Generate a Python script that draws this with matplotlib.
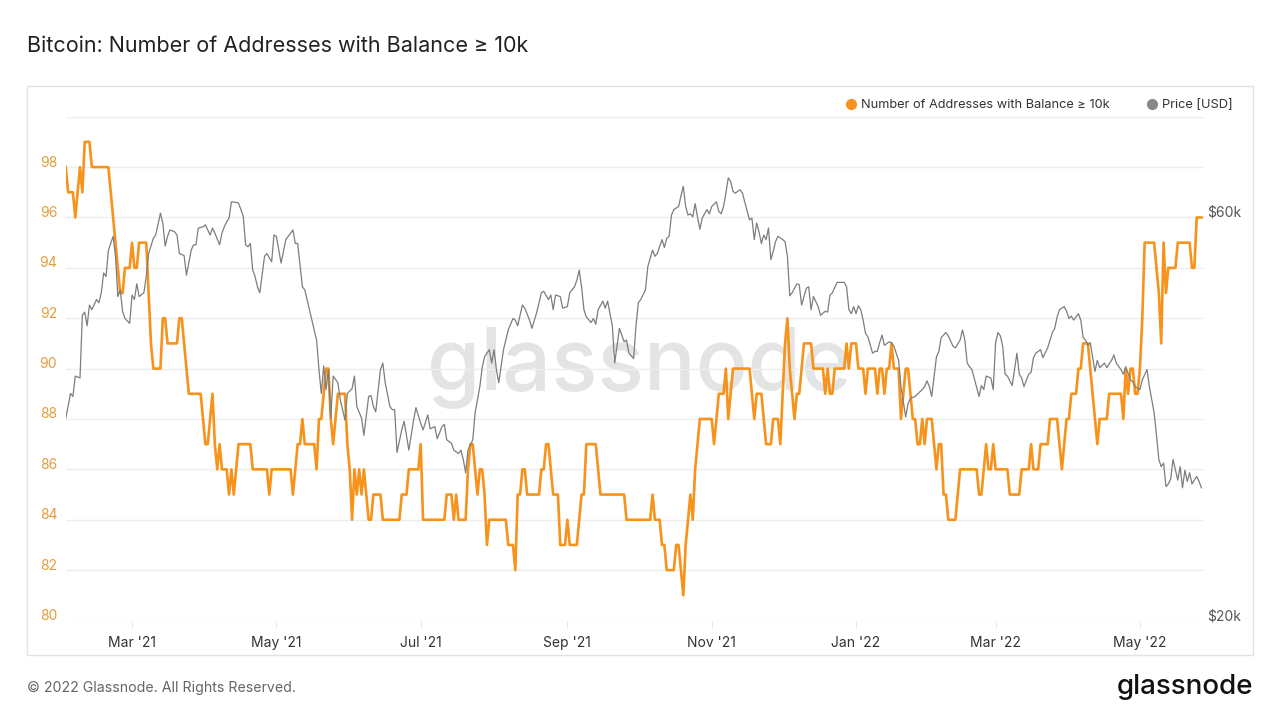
import numpy as np
import matplotlib
matplotlib.use("Agg")
import matplotlib.pyplot as plt
import matplotlib.dates as mdates
import matplotlib.ticker as mticker
from matplotlib.lines import Line2D
from matplotlib.patches import Rectangle
from matplotlib.transforms import ScaledTranslation

plt.rcParams['font.family'] = ['Inter', 'DejaVu Sans']

# ---------------- data ----------------
START = np.datetime64('2021-02-01')
N_DAYS = 481  # 2021-02-01 .. 2022-05-27

# addresses with balance >= 10k BTC: day offset where a new value starts, and that value
addr_change_day = [
    0, 1, 4, 5, 6, 7, 8, 11, 19, 20,
    21, 22, 23, 25, 28, 29, 31, 35, 36, 37,
    41, 43, 48, 50, 51, 52, 58, 59, 61, 62,
    63, 64, 65, 66, 69, 70, 71, 72, 73, 79,
    86, 87, 96, 97, 98, 100, 101, 106, 107, 109,
    110, 112, 113, 114, 115, 119, 120, 121, 122, 123,
    124, 125, 126, 127, 128, 130, 134, 142, 145, 150,
    151, 161, 164, 165, 166, 170, 171, 173, 174, 175,
    177, 178, 179, 187, 190, 191, 193, 195, 201, 203,
    205, 206, 209, 212, 213, 217, 218, 220, 225, 226,
    237, 248, 249, 252, 254, 258, 260, 261, 262, 263,
    264, 265, 266, 267, 268, 274, 275, 276, 279, 280,
    281, 282, 290, 291, 292, 295, 296, 299, 302, 303,
    304, 305, 306, 307, 308, 309, 311, 312, 316, 321,
    322, 323, 325, 330, 331, 332, 335, 338, 339, 343,
    344, 346, 347, 349, 350, 353, 354, 355, 357, 358,
    360, 362, 363, 364, 367, 368, 369, 371, 373, 377,
    378, 386, 388, 389, 390, 392, 393, 399, 404, 408,
    409, 412, 416, 420, 421, 422, 423, 425, 428, 430,
    433, 434, 435, 436, 437, 441, 447, 448, 449, 450,
    452, 454, 455, 456, 461, 462, 463, 464, 465, 466,
    470, 476, 478,
]
addr_value = [
    98, 97, 96, 97, 98, 97, 99, 98, 97, 96,
    95, 94, 93, 94, 95, 94, 95, 93, 91, 90,
    92, 91, 92, 91, 90, 89, 88, 87, 88, 89,
    87, 86, 87, 86, 85, 86, 85, 86, 87, 86,
    85, 86, 85, 86, 87, 88, 87, 86, 88, 89,
    90, 88, 87, 88, 89, 87, 86, 84, 86, 85,
    86, 85, 86, 85, 84, 85, 84, 85, 86, 87,
    84, 85, 84, 85, 84, 86, 87, 86, 85, 86,
    85, 83, 84, 83, 82, 85, 86, 85, 86, 87,
    86, 85, 83, 84, 83, 84, 85, 87, 86, 85,
    84, 85, 84, 83, 82, 83, 82, 81, 83, 84,
    85, 84, 86, 87, 88, 87, 88, 89, 90, 88,
    89, 90, 89, 88, 89, 88, 87, 88, 87, 89,
    91, 92, 90, 89, 88, 89, 90, 91, 90, 89,
    90, 89, 90, 91, 90, 91, 90, 89, 90, 89,
    90, 89, 90, 91, 90, 88, 89, 90, 89, 88,
    87, 88, 87, 88, 87, 86, 87, 85, 84, 85,
    86, 85, 86, 87, 86, 87, 86, 85, 86, 87,
    86, 87, 88, 87, 86, 87, 88, 89, 90, 91,
    90, 89, 88, 87, 88, 89, 88, 90, 89, 90,
    89, 90, 92, 95, 94, 93, 91, 95, 93, 94,
    95, 94, 96,
]

# BTC price (thousand USD)
price_day = [
    0, 2, 3, 4, 6, 7, 8, 9, 10, 11,
    13, 14, 15, 16, 17, 18, 20, 21, 22, 23,
    24, 25, 27, 28, 29, 30, 31, 33, 34, 35,
    37, 38, 40, 41, 42, 43, 44, 46, 47, 48,
    50, 51, 53, 54, 55, 56, 58, 59, 61, 62,
    63, 65, 66, 67, 68, 69, 70, 72, 73, 75,
    76, 77, 78, 79, 80, 81, 82, 84, 85, 87,
    88, 89, 91, 93, 94, 96, 97, 98, 100, 101,
    103, 106, 107, 108, 109, 110, 111, 112, 113, 115,
    116, 118, 119, 121, 122, 123, 125, 126, 128, 129,
    130, 131, 133, 134, 135, 137, 138, 139, 140, 142,
    143, 145, 147, 148, 150, 151, 153, 154, 156, 157,
    159, 160, 161, 163, 164, 166, 167, 168, 169, 170,
    172, 173, 175, 176, 177, 179, 180, 181, 182, 183,
    185, 187, 189, 190, 191, 193, 194, 196, 197, 199,
    201, 202, 204, 205, 206, 207, 209, 210, 212, 213,
    215, 216, 217, 218, 219, 220, 222, 223, 224, 225,
    227, 228, 229, 231, 232, 234, 236, 237, 238, 240,
    241, 242, 243, 245, 246, 248, 249, 250, 252, 253,
    254, 255, 256, 257, 259, 260, 261, 262, 263, 264,
    265, 266, 267, 268, 269, 271, 272, 273, 275, 276,
    277, 278, 279, 280, 281, 282, 283, 285, 286, 288,
    289, 290, 291, 292, 293, 294, 295, 296, 297, 298,
    299, 300, 301, 303, 304, 305, 306, 307, 309, 310,
    311, 313, 314, 315, 316, 318, 319, 321, 322, 323,
    324, 326, 327, 329, 330, 331, 332, 333, 334, 335,
    336, 337, 338, 339, 341, 342, 343, 344, 345, 346,
    348, 349, 350, 351, 352, 353, 355, 356, 357, 359,
    362, 363, 364, 365, 366, 368, 369, 370, 372, 373,
    375, 376, 378, 379, 380, 381, 382, 383, 386, 387,
    388, 389, 391, 392, 393, 394, 395, 396, 397, 398,
    400, 402, 403, 404, 405, 407, 408, 409, 410, 412,
    413, 415, 416, 417, 418, 419, 420, 422, 423, 424,
    425, 426, 428, 429, 430, 431, 432, 433, 434, 435,
    436, 437, 439, 440, 442, 443, 444, 446, 447, 448,
    450, 451, 452, 454, 455, 457, 458, 459, 460, 461,
    462, 463, 464, 465, 466, 467, 468, 470, 471, 472,
    473, 474, 475, 476, 478, 479, 480,
]
price_k = [
    34.7, 37.1, 36.8, 38.9, 38.7, 45.9, 46.3, 44.6, 47.2, 46.6,
    47.9, 47.5, 48.8, 51.5, 51.0, 54.8, 56.9, 53.9, 48.3, 49.2,
    46.4, 45.5, 44.9, 48.5, 47.9, 50.0, 48.3, 48.8, 51.0, 54.3,
    56.6, 57.1, 60.6, 59.0, 55.4, 56.9, 57.9, 57.6, 57.1, 54.3,
    54.0, 51.2, 54.8, 55.6, 55.6, 58.2, 58.4, 58.7, 57.1, 58.2,
    57.4, 55.6, 57.4, 58.4, 59.2, 59.8, 62.5, 62.4, 62.3, 60.1,
    55.6, 55.3, 55.8, 51.9, 51.0, 49.6, 48.8, 53.9, 54.3, 53.1,
    57.1, 56.9, 52.9, 56.4, 56.9, 57.9, 55.8, 55.8, 49.6, 49.2,
    46.6, 42.9, 39.6, 37.1, 40.0, 37.5, 39.6, 34.7, 38.9, 38.2,
    36.5, 34.5, 37.1, 37.6, 38.9, 35.8, 34.7, 33.1, 36.8, 36.9,
    35.8, 35.3, 39.6, 40.3, 38.2, 35.8, 35.5, 35.5, 31.6, 33.6,
    34.4, 31.8, 34.5, 35.7, 34.2, 33.6, 35.0, 33.7, 33.9, 32.8,
    33.9, 34.1, 32.7, 32.4, 31.8, 31.5, 31.8, 31.0, 29.9, 31.8,
    32.7, 35.2, 37.8, 39.8, 41.0, 41.8, 40.3, 41.8, 39.6, 38.2,
    41.8, 44.1, 45.5, 45.3, 44.6, 47.2, 46.8, 45.3, 44.3, 46.2,
    48.8, 49.0, 47.9, 48.5, 46.6, 48.5, 48.3, 46.8, 47.0, 48.8,
    49.6, 50.5, 51.9, 49.6, 46.6, 45.7, 45.0, 45.5, 44.8, 46.6,
    47.7, 46.8, 47.7, 44.6, 40.3, 44.3, 42.7, 42.9, 41.4, 40.8,
    44.6, 47.5, 47.9, 49.2, 52.4, 54.8, 53.9, 54.3, 56.4, 55.2,
    56.6, 56.9, 60.3, 61.2, 61.7, 63.5, 65.2, 61.7, 60.3, 60.5,
    60.0, 62.2, 60.0, 58.0, 59.8, 61.2, 60.5, 61.7, 62.5, 60.9,
    60.5, 61.7, 64.0, 66.7, 66.1, 64.3, 64.0, 64.6, 64.0, 60.9,
    59.5, 59.8, 56.4, 59.0, 57.6, 55.8, 57.1, 56.4, 58.2, 53.4,
    54.6, 56.1, 56.9, 56.4, 56.1, 53.9, 48.4, 48.8, 50.0, 49.9,
    47.2, 49.4, 49.6, 46.6, 48.3, 47.0, 45.9, 46.4, 46.3, 48.5,
    48.8, 50.2, 50.2, 50.2, 49.6, 46.6, 46.1, 47.0, 46.1, 47.1,
    46.6, 45.3, 43.7, 43.3, 41.4, 41.6, 41.6, 42.6, 43.5, 42.3,
    42.7, 42.6, 42.2, 41.4, 40.6, 37.8, 34.8, 36.1, 36.6, 36.8,
    37.5, 37.8, 38.4, 37.8, 36.8, 41.0, 41.6, 43.2, 43.8, 43.4,
    42.2, 42.0, 42.9, 44.1, 42.9, 40.3, 39.9, 39.6, 36.8, 37.9,
    37.5, 38.9, 38.7, 37.5, 42.6, 43.8, 43.4, 42.2, 39.1, 38.9,
    37.9, 41.4, 39.1, 38.7, 37.8, 39.1, 39.3, 40.9, 41.4, 41.8,
    40.9, 42.0, 42.9, 43.8, 44.3, 45.7, 46.6, 47.0, 46.4, 45.5,
    45.8, 45.3, 46.1, 45.3, 43.2, 42.9, 42.3, 42.6, 41.0, 39.4,
    40.6, 39.8, 40.3, 39.8, 40.6, 41.2, 40.3, 39.6, 39.1, 39.9,
    38.5, 38.3, 37.8, 37.5, 38.5, 39.6, 37.8, 36.5, 35.2, 33.1,
    31.0, 30.4, 30.7, 28.8, 29.0, 29.4, 31.0, 29.3, 30.4, 28.7,
    30.1, 29.2, 29.9, 29.0, 29.6, 29.2, 28.7,
]

left_ticks = [80, 82, 84, 86, 88, 90, 92, 94, 96, 98, 100]
left_labels = ['80', '82', '84', '86', '88', '90', '92', '94', '96', '98', '']
right_ticks = [20000, 60000]
right_labels = ['$20k', '$60k']

TITLE = "Bitcoin: Number of Addresses with Balance \u2265 10k"
SERIES1 = "Number of Addresses with Balance \u2265 10k"
SERIES2 = "Price [USD]"

ORANGE = '#f7931a'
GRAY = '#7d7d7d'

# ---------------- build series ----------------
counts = np.diff(addr_change_day + [N_DAYS])
addr_daily = np.repeat(addr_value, counts)
addr_dates = START + np.arange(N_DAYS).astype('timedelta64[D]')
price_dates = START + np.array(price_day).astype('timedelta64[D]')
price_usd = np.array(price_k) * 1000.0

# ---------------- figure ----------------
W, H = 1280, 720
fig = plt.figure(figsize=(12.8, 7.2), dpi=100)
fig.patch.set_facecolor('white')

fig.add_artist(Rectangle((27 / W, 1 - 655 / H), (1253 - 27) / W, (655 - 86) / H,
                         transform=fig.transFigure, fill=False,
                         edgecolor='#e2e2e2', linewidth=1.0))

fig.text(27 / W, 1 - 46 / H, TITLE, fontsize=15.5, color='#222222',
         ha='left', va='center')
fig.text(27 / W, 1 - 688 / H, "\u00a9 2022 Glassnode. All Rights Reserved.",
         fontsize=10.2, color='#666666', ha='left', va='center')
fig.text(1253 / W, 1 - 687 / H, "glassnode", fontsize=20, color='#111111',
         ha='right', va='center', fontweight='medium')

ax = fig.add_axes([66 / W, 99.5 / H, 1138 / W, 503.8 / H])
ax2 = ax.twinx()

for a in (ax, ax2):
    for s in a.spines.values():
        s.set_visible(False)

ax.set_zorder(1)
ax2.set_zorder(2)
ax.patch.set_visible(False)
ax2.patch.set_visible(False)

# watermark
ax.text(0.504, 0.4575, "glassnode", transform=ax.transAxes, fontsize=62,
        color='#e4e4e4', ha='center', va='baseline', zorder=0,
        fontweight='medium')

ax.plot(addr_dates, addr_daily, color=ORANGE, lw=1.9, zorder=3,
        solid_joinstyle='round')
ax2.plot(price_dates, price_usd, color=GRAY, lw=0.9, zorder=3)

ax.set_xlim(START + np.timedelta64(2, 'h'),
            START + np.timedelta64(N_DAYS, 'D') + np.timedelta64(2, 'h'))
ax.set_ylim(80, 100)
ax.set_yticks(left_ticks)
ax.set_yticklabels(left_labels)
ax.yaxis.grid(True, color='#eeeeee', lw=1.0, zorder=0)
ax.set_axisbelow(True)
ax.tick_params(axis='y', length=0, pad=6.3, labelsize=10, labelcolor='#e39c3c')

ax.xaxis.set_major_locator(mdates.MonthLocator(bymonth=[1, 3, 5, 7, 9, 11]))
ax.xaxis.set_major_formatter(mdates.DateFormatter("%b '%y"))
ax.tick_params(axis='x', length=5, width=0.8, color='#e6e6e6', pad=6,
               labelsize=10, labelcolor='#333333')

ax2.set_yscale('log')
ax2.set_ylim(20000, 78800)
ax2.yaxis.set_major_locator(mticker.FixedLocator(right_ticks))
ax2.yaxis.set_major_formatter(mticker.FixedFormatter(right_labels))
ax2.yaxis.set_minor_locator(mticker.NullLocator())
ax2.tick_params(axis='y', length=0, pad=2, labelsize=10, labelcolor='#555555')

up = ScaledTranslation(0, 6 / 100, fig.dpi_scale_trans)
for lab in ax.get_yticklabels():
    lab.set_transform(lab.get_transform() + up)
for lab in ax2.get_yticklabels():
    lab.set_transform(lab.get_transform() + up)

handles = [Line2D([], [], ls='', marker='o', markersize=7, color=ORANGE),
           Line2D([], [], ls='', marker='o', markersize=7, color='#888888')]
fig.legend(handles, [SERIES1, SERIES2], loc='center right',
           bbox_to_anchor=(1238 / W, 1 - 105.5 / H), ncol=2, frameon=False,
           fontsize=9.2, handletextpad=0.28, columnspacing=2.85,
           labelcolor='#333333', borderaxespad=0, handlelength=1.0)

fig.savefig('out.png', dpi=100, facecolor='white')
